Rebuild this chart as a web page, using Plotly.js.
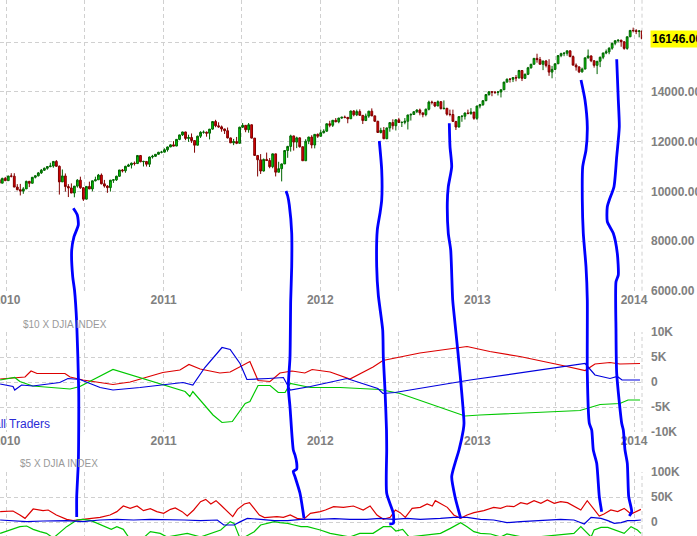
<!DOCTYPE html>
<html>
<head>
<meta charset="utf-8">
<script src="https://cdn.plot.ly/plotly-3.0.1.min.js"></script>
<style>html,body{margin:0;padding:0;background:#fff;}#chart{width:697px;height:536px;}</style>
</head>
<body>
<div id="chart"></div>
<script>
// ---------- Weekly DJIA candles (weeks starting Monday) ----------
const firstWeek = '2009-12-14';
const djiaOpen = [10471,10329,10520,10430,10618,10610,10172,10067,10012,10099,
 10402,10325,10566,10625,10742,10850,10927,10997,11019,11204,
 11009,10380,10620,10193,10137,9931,10211,10450,10144,9686,
 10198,10097,10424,10466,10654,10303,10213,10150,10448,10462,
 10607,10860,10829,11006,11062,11133,11118,11444,11192,11204,
 11092,11382,11410,11491,11573,11578,11674,11787,11871,11823,
 12092,12273,12391,12130,12169,12044,11858,12220,12376,12380,
 12341,12505,12811,12638,12596,12512,12441,12151,11952,12004,
 11934,12582,12657,12480,12681,12143,11445,11269,10818,11285,
 11240,10993,11509,10771,10913,11103,11644,11809,12231,11983,
 12153,11796,11231,12019,12184,11866,12294,12218,12360,12422,
 12720,12660,12862,12801,12950,12983,12978,12922,13233,13081,
 13212,13060,12850,13029,13228,13038,12821,12369,12455,12119,
 12554,12767,12640,12880,12772,12777,12822,13075,13096,13207,
 13275,13157,13090,13306,13593,13579,13437,13610,13328,13343,
 13107,13093,12815,12588,13009,13025,13155,13135,13190,12938,
 13435,13488,13650,13896,14010,13993,13982,14001,14090,14397,
 14515,14512,14579,14565,14865,14548,14713,14974,15118,15354,
 15303,15116,15248,15070,14800,14910,15135,15464,15544,15559,
 15658,15425,15081,15010,14810,14922,15376,15452,15258,15073,
 15237,15400,15570,15615,15762,15962,16065,16086,16020,15755,
 16221,16479,16470,16437,16458];
const djiaHigh = [10516,10550,10580,10620,10730,10730,10290,10300,10170,10430,
 10420,10570,10640,10780,10900,10960,11010,11150,11210,11258,
 11040,10880,10720,10290,10320,10200,10490,10590,10170,10200,
 10390,10430,10590,10700,10720,10460,10250,10460,10490,10630,
 10860,10900,11030,11110,11160,11200,11450,11450,11230,11220,
 11400,11470,11500,11590,11630,11730,11800,11890,12020,12100,
 12280,12400,12400,12280,12330,12050,12240,12420,12450,12410,
 12510,12830,12880,12780,12650,12520,12570,12160,12110,12190,
 12600,12750,12660,12750,12690,12150,11450,11500,11320,11560,
 11340,11520,11510,11190,11120,11650,11830,12280,12240,12200,
 12170,11800,12100,12200,12260,12300,12330,12480,12500,12730,
 12840,12870,12950,12960,13000,13050,12980,13250,13270,13290,
 13300,13070,13130,13240,13340,13050,12840,12560,12590,12560,
 12780,12900,12900,12960,12810,12950,13080,13140,13210,13300,
 13330,13180,13330,13650,13650,13600,13660,13620,13660,13360,
 13290,13290,12830,13010,13060,13170,13290,13350,13200,13440,
 13520,13660,13900,14020,14020,14040,14040,14100,14410,14540,
 14560,14590,14680,14890,14870,14740,15010,15120,15360,15540,
 15410,15250,15290,15320,15050,15140,15480,15580,15610,15660,
 15660,15470,15150,15030,14980,15380,15710,15470,15270,15240,
 15420,15580,15710,15800,15970,16070,16110,16100,16040,16230,
 16480,16590,16530,16490,16470];
const djiaLow = [10262,10329,10428,10430,10560,10170,10040,9835,9900,10099,
 10170,10320,10520,10600,10700,10820,10870,10970,10950,10990,
 9870,10380,9990,9770,9930,9760,10150,10100,9614,9680,
 10090,10000,10400,10460,10280,10150,9940,9990,10340,10420,
 10590,10760,10750,10980,10920,11040,11100,11170,11000,11000,
 10980,11320,11390,11480,11530,11570,11600,11780,11820,11820,
 12060,12230,12060,11990,11950,11555,11850,12150,12320,12200,
 12090,12480,12580,12560,12400,12310,12130,11940,11860,11900,
 11930,12550,12380,12360,12130,11440,10600,10700,10800,11230,
 10930,10930,10600,10770,10400,11100,11350,11600,11640,11740,
 11760,11230,11230,11900,11730,11730,12150,12210,12330,12400,
 12580,12590,12780,12740,12920,12940,12740,12920,13020,13030,
 13040,12710,12830,12960,13030,12800,12360,12330,12100,12100,
 12400,12490,12450,12760,12590,12700,12490,12850,13090,13150,
 13060,12980,13020,13260,13500,13390,13430,13300,13300,13050,
 13020,12800,12470,12580,12800,12890,13100,13080,12880,12880,
 13340,13440,13630,13850,13830,13920,13860,13780,14080,14380,
 14380,14400,14430,14540,14440,14530,14680,14940,15100,15180,
 15110,14880,14990,14650,14550,14900,15130,15400,15440,15460,
 15400,15080,14860,14760,14780,14920,15340,15200,14980,14720,
 15000,15320,15520,15520,15700,15880,16000,15820,15700,15700,
 16220,16400,16330,16200,16120];
const djiaClose = [10329,10520,10428,10618,10610,10172,10067,10012,10099,10402,
 10325,10566,10625,10742,10850,10927,10997,11019,11204,11009,
 10380,10620,10193,10137,9931,10211,10450,10144,9686,10198,
 10097,10424,10466,10654,10303,10213,10150,10448,10462,10607,
 10860,10829,11006,11062,11133,11118,11444,11192,11204,11092,
 11382,11410,11491,11573,11578,11674,11787,11871,11823,12092,
 12273,12391,12130,12169,12044,11858,12220,12376,12380,12341,
 12505,12811,12638,12596,12512,12441,12151,11952,12004,11934,
 12582,12657,12480,12681,12143,11445,11269,10818,11285,11240,
 10993,11509,10771,10913,11103,11644,11809,12231,11983,12153,
 11796,11231,12019,12184,11866,12294,12218,12360,12422,12720,
 12660,12862,12801,12950,12983,12978,12922,13233,13081,13212,
 13060,12850,13029,13228,13038,12821,12369,12455,12119,12554,
 12767,12640,12880,12772,12777,12822,13075,13096,13207,13275,
 13157,13090,13306,13593,13579,13437,13610,13328,13343,13107,
 13093,12815,12588,13009,13025,13155,13135,13190,12938,13435,
 13488,13650,13896,14010,13993,13982,14001,14090,14397,14515,
 14512,14579,14565,14865,14548,14713,14974,15118,15354,15303,
 15116,15248,15070,14800,14910,15135,15464,15544,15559,15658,
 15425,15081,15010,14810,14922,15376,15452,15258,15073,15237,
 15400,15570,15615,15762,15962,16065,16086,16020,15755,16221,
 16479,16470,16437,16458,16146];
const lastPrice = 16146;
const lastPriceLabel = '16146.00';

// ---------- $10 x DJIA COT (thousands of contracts) ----------
const large10Dates = ['2009-12-16','2010-01-15','2010-02-12','2010-02-26','2010-03-12','2010-05-16','2010-05-28','2010-06-27','2010-09-05','2010-10-15','2010-12-30','2011-02-08','2011-03-01','2011-03-27','2011-05-12','2011-06-05','2011-07-21','2011-08-09','2011-09-06','2011-09-29','2011-10-27','2011-11-26','2011-12-13','2012-01-24','2012-02-16','2012-03-10','2012-05-03','2012-05-26','2012-08-20','2012-11-10','2012-12-08','2013-01-30','2013-04-10','2013-07-13','2013-09-09','2013-10-02','2013-11-06','2013-11-29','2014-01-15'];
const large10K = [0.6,0.8,1.0,2.2,1.7,1.7,1.0,0.4,-0.5,0.0,1.9,2.4,3.5,2.6,1.8,2.0,4.1,0.3,0.1,1.8,2.2,1.8,2.5,2.0,1.3,0.6,3.0,4.3,5.8,6.7,7.1,6.1,5.1,3.4,2.3,3.6,3.9,3.6,3.7];
const small10Dates = ['2009-12-16','2010-01-15','2010-01-19','2010-02-04','2010-03-02','2010-05-04','2010-05-23','2010-06-20','2010-08-06','2010-09-05','2010-11-07','2010-12-30','2011-02-15','2011-03-10','2011-04-07','2011-05-17','2011-06-05','2011-06-28','2011-07-14','2011-09-02','2011-10-07','2011-10-23','2011-12-09','2012-03-03','2012-05-14','2012-05-26','2012-06-23','2012-12-15','2013-09-09','2013-10-02','2013-11-06','2013-11-23','2013-12-04','2014-01-15'];
const small10K = [-0.4,-0.9,-1.6,-0.6,-0.8,-0.1,0.7,0.5,-1.1,-1.6,-1.1,-0.6,-0.1,-0.6,2.9,6.9,6.5,3.7,0.5,0.7,0.9,-1.6,-0.9,0.7,-1.3,-2.3,-2.1,0.4,3.7,1.4,0.7,1.1,0.4,0.4];
const comm10Dates = ['2009-12-16','2010-01-19','2010-01-31','2010-03-02','2010-05-28','2010-06-20','2010-09-05','2010-11-07','2011-01-04','2011-02-20','2011-03-03','2011-03-10','2011-04-26','2011-05-17','2011-06-10','2011-07-10','2011-07-21','2011-08-09','2011-09-06','2011-09-25','2011-10-11','2011-10-23','2011-12-09','2012-02-16','2012-05-19','2012-07-05','2012-12-03','2013-01-07','2013-08-28','2013-10-14','2013-11-29','2013-12-18','2014-01-15'];
const comm10K = [0.4,0.9,0.1,-0.8,-1.4,-0.9,2.5,0.9,-0.6,-1.9,-2.9,-1.9,-6.6,-8.1,-7.9,-4.3,-3.9,-0.7,-0.7,-2.1,-2.1,-0.3,-1.1,-1.1,-1.5,-2.3,-6.8,-6.6,-5.7,-4.5,-4.3,-3.6,-3.6];

// ---------- $5 x DJIA COT (thousands of contracts) ----------
const large5Dates = ['2009-12-16','2010-01-15','2010-01-31','2010-02-12','2010-03-03','2010-03-26','2010-04-07','2010-04-26','2010-05-20','2010-06-04','2010-06-27','2010-07-16','2010-08-06','2010-08-29','2010-09-14','2010-09-29','2010-10-15','2010-10-31','2010-11-15','2010-12-01','2010-12-16','2011-01-01','2011-01-17','2011-01-28','2011-02-13','2011-02-25','2011-03-12','2011-03-28','2011-04-09','2011-04-21','2011-05-03','2011-05-14','2011-05-30','2011-06-11','2011-06-22','2011-07-08','2011-07-20','2011-07-31','2011-08-12','2011-08-24','2011-09-06','2011-09-22','2011-10-07','2011-10-23','2011-11-08','2011-11-23','2011-12-09','2012-01-01','2012-01-13','2012-02-01','2012-02-24','2012-03-10','2012-03-18','2012-04-10','2012-04-26','2012-05-12','2012-05-27','2012-06-12','2012-06-24','2012-07-05','2012-07-17','2012-08-02','2012-08-21','2012-09-06','2012-09-18','2012-09-25','2012-10-07','2012-10-23','2012-11-07','2012-11-23','2012-12-08','2012-12-24','2013-01-16','2013-02-08','2013-02-24','2013-03-11','2013-03-27','2013-04-12','2013-04-27','2013-05-13','2013-05-29','2013-06-13','2013-06-29','2013-07-14','2013-07-30','2013-08-14','2013-08-30','2013-09-14','2013-09-30','2013-10-12','2013-10-23','2013-11-08','2013-11-24','2013-12-09','2013-12-25','2014-01-05','2014-01-17'];
const large5K = [20.7,22,14,7.3,26,22.7,24,14,5.3,2.7,5.3,7.3,9.3,14,20.7,32,27.3,32,22.7,26.7,20.7,17.3,25.3,28,20.7,12,24,40.7,45.3,36,42.7,34,20.7,10.7,25.3,36,38.7,27.3,14,8.7,9.3,10.7,9.3,14,7.3,5.3,17.3,20.7,24,30.7,29.3,32,32,24,32,14,5.3,9.3,24,18.7,9.3,27.3,29.3,36,32,42.7,37.3,29.3,14,7.3,14,18.7,22.7,29.3,27.3,32,30.7,38.7,36,42.7,37.3,44,37.3,40.7,38.7,32,24,42.7,24,12,16,24,20.7,27.3,16,20.7,25.3];
const small5Dates = ['2009-12-16','2010-01-15','2010-02-16','2010-03-26','2010-05-20','2010-06-27','2010-08-06','2010-09-14','2010-10-23','2010-12-01','2011-01-09','2011-02-18','2011-03-28','2011-05-06','2011-05-21','2011-06-14','2011-06-29','2011-07-15','2011-08-15','2011-09-16','2011-10-17','2011-11-17','2011-12-26','2012-02-03','2012-03-10','2012-04-18','2012-05-19','2012-06-20','2012-07-21','2012-08-21','2012-10-07','2012-11-07','2012-12-08','2013-01-08','2013-02-08','2013-03-11','2013-04-12','2013-05-29','2013-07-14','2013-08-14','2013-09-07','2013-09-23','2013-10-16','2013-11-01','2013-11-16','2013-12-02','2013-12-17','2014-01-02','2014-01-17'];
const small5K = [4,2.7,0.7,2,2.7,0.7,4,5.3,4,5.3,5.3,4,2.7,4,-6,-6,0.7,7.3,5.3,2.7,2.7,5.3,5.3,6.7,5.3,5.3,7.3,5.3,7.3,5.3,7.3,9.3,9.3,5.3,4,-1.3,0.7,2.7,5.3,4,-4,9.3,7.3,2.7,-2.7,-1.3,2.7,2.7,4];
const comm5Dates = ['2009-12-16','2010-01-08','2010-01-31','2010-02-16','2010-03-03','2010-03-19','2010-04-03','2010-04-19','2010-05-20','2010-06-13','2010-06-27','2010-07-16','2010-08-01','2010-08-16','2010-09-01','2010-09-14','2010-09-29','2010-10-15','2010-11-07','2010-12-01','2010-12-24','2011-01-09','2011-02-25','2011-03-28','2011-05-14','2011-06-05','2011-06-14','2011-06-29','2011-07-31','2011-08-15','2011-08-31','2011-09-16','2011-09-29','2011-10-17','2011-11-01','2011-11-17','2011-12-02','2012-01-01','2012-01-24','2012-03-10','2012-04-02','2012-05-03','2012-05-27','2012-06-14','2012-06-25','2012-07-11','2012-07-26','2012-10-07','2012-10-30','2012-11-23','2012-12-08','2012-12-24','2013-01-08','2013-02-01','2013-02-24','2013-03-11','2013-04-27','2013-08-14','2013-08-30','2013-09-07','2013-09-23','2013-09-30','2013-10-16','2013-11-01','2013-11-16','2013-12-09','2013-12-25','2014-01-09','2014-01-17'];
const comm5K = [-22.7,-16,-9.3,-8,-14.7,-19.3,-22.7,-32,-9.3,4,5.3,2.7,-2.7,-9.3,-14.7,-9.3,-14.7,-35,-38,-19.3,-22.7,-30,-22.7,-30,-16,0.7,-2.7,-35,-19.3,-6,-2.7,0.7,-1.3,-2.7,-6,-9.3,-9.3,-16,-22.7,-30,-22.7,-22.7,-9.3,-9.3,-18,-14.7,-30,-22.7,-12.7,-1.3,-9.3,-19.3,-22.7,-24,-30,-24,-32,-22.7,-9.3,-16,-30,-16,-10.7,-10.7,-16,-22.7,-9.3,-16,-22.7];

// ---------- axis ticks ----------
const dateTicks = ['2010-01-01','2010-07-01','2011-01-01','2011-07-01','2012-01-01','2012-07-01','2013-01-01','2013-07-01','2014-01-01'];
const dateTickText = ['2010','','2011','','2012','','2013','','2014'];
const priceTicks = [6000,8000,10000,12000,14000,16000];
const priceTickText = ['6000.00','8000.00','10000.00','12000.00','14000.00',''];
const cot10Ticks = [-10,-5,0,5,10];
const cot10TickText = ['-10K','-5K','0','5K','10K'];
const cot5Ticks = [0,50,100];
const cot5TickText = ['0','50K','100K'];

// ---------- hand-drawn blue strokes (figure pixel units) ----------
const strokes = [
 {x:[73.3,77.3,78.3,74,71.7,72.7,74.5,76.7,78.7,78.7,78.3,76.7,76.7],
  y:[208.3,215,225,236.7,250,276.7,290,323,390,430,463,497,517]},
 {x:[286,287.7,289.3,291.7,291.7,290.7,290,288.3,290,293.3,295,296.7,296.7,293.3,295,300,304],
  y:[191,196,205,233,267,300,357,387,407,450,455,463,469,471.5,476.7,493.3,518.3]},
 {x:[379.3,381.7,381.7,380,377.3,376.7,378.3,382.7,383.3,385,386.5,386.7,386.7,393.3,393.3,389.3],
  y:[141,170,200,213.3,230,266.7,295,330,356.7,390,430,450,493.3,513.3,523.3,524]},
 {x:[449.3,450,451.7,448.3,447.3,448.3,450.7,452.7,455,460,464,463.3,459,455,451.7,455,460.7],
  y:[123.3,146.7,166.7,186.7,203,233.3,250,300,323.3,373.3,423.3,430,450,463.3,476.7,496.7,518.3]},
 {x:[581,585,587.3,586,582.7,582.3,583.3,586,587.3,587.3,587.3,589.3,591.7,593.3,596.7,599.3,601.7],
  y:[80,100,126.7,150,166.7,200,233.3,266.7,300,330,373.3,423.3,430,450,463.3,496.7,511.7]},
 {x:[616.7,618.3,619.3,616.7,614,609.3,607.3,607.3,613.3,617.3,618.3,616,616,616.7,621.7,623.3,625,627.3,628.7,631.7,629.3],
  y:[59.3,100,126.7,156.7,186.7,200,206.7,221.7,233.3,253.3,275,281.7,330,373.3,423.3,430,450,463.3,496.7,511.7,516]}
];

// ---------- build ----------
const weekDates = djiaOpen.map((_, i) => {
  const d = new Date(Date.parse(firstWeek + 'T00:00:00Z') + i * 7 * 86400000);
  return d.toISOString().slice(0, 10);
});

const RED = '#dd0000', GREEN = '#00c800', BLUE = '#0000dd';
const traces = [];
traces.push({
  type: 'candlestick', x: weekDates, open: djiaOpen, high: djiaHigh, low: djiaLow, close: djiaClose,
  xaxis: 'x', yaxis: 'y', whiskerwidth: 0, hoverinfo: 'skip',
  increasing: {line: {color: '#006400', width: 1}, fillcolor: '#00d200'},
  decreasing: {line: {color: '#800000', width: 1}, fillcolor: '#e00000'}
});
function line(x, y, color, ax, name) {
  return {type: 'scatter', mode: 'lines', x: x, y: y, name: name, xaxis: ax[0], yaxis: ax[1],
          line: {color: color, width: 1.2}, hoverinfo: 'skip'};
}
traces.push(line(large10Dates, large10K, RED, ['x2','y2'], 'Large Traders'));
traces.push(line(comm10Dates, comm10K, GREEN, ['x2','y2'], 'Commercials'));
traces.push(line(small10Dates, small10K, BLUE, ['x2','y2'], 'Small Traders'));
traces.push(line(large5Dates, large5K, RED, ['x3','y3'], 'Large Traders'));
traces.push(line(comm5Dates, comm5K, GREEN, ['x3','y3'], 'Commercials'));
traces.push(line(small5Dates, small5K, BLUE, ['x3','y3'], 'Small Traders'));
strokes.forEach(s => traces.push({type: 'scatter', mode: 'lines', x: s.x, y: s.y, xaxis: 'x4', yaxis: 'y4',
  line: {color: '#0000ff', width: 2.8, shape: 'spline', smoothing: 0.6}, hoverinfo: 'skip'}));

const H = 536, PW = 642;
const xRange = ['2009-12-15 17:00', '2014-01-19 14:00'];
const tickFont = {family: 'Liberation Sans, Arial, sans-serif', size: 12, color: '#808080', weight: 'bold'};
const gridStyle = {showgrid: true, gridcolor: '#d0d0d0', griddash: '4px,3px', gridwidth: 1, zeroline: false, showline: false, ticks: ''};
function xAx(anchor) {
  return Object.assign({type: 'date', range: xRange, anchor: anchor, tickmode: 'array', tickvals: dateTicks,
    ticktext: dateTickText, tickfont: tickFont, ticklabeloverflow: 'allow', fixedrange: true}, gridStyle);
}
function yAx(domain, range, tv, tt, anchor) {
  return Object.assign({domain: domain, range: range, side: 'right', anchor: anchor, tickmode: 'array',
    tickvals: tv, ticktext: tt, tickfont: tickFont, ticklabeloverflow: 'allow', ticklabelstandoff: 8, fixedrange: true}, gridStyle);
}
const mainDom = [1 - 290.7 / H, 1];
const cot10Dom = [1 - 432 / H, 1 - 332 / H];
const cot5Dom = [0, 1 - 472 / H];

const layout = {
  width: 697, height: 536, margin: {l: 0, r: 55, t: 0, b: 0},
  paper_bgcolor: '#ffffff', plot_bgcolor: 'rgba(0,0,0,0)', showlegend: false, boxgap: 0.15,
  xaxis: Object.assign(xAx('y'), {rangeslider: {visible: false}}),
  yaxis: yAx(mainDom, [6000, 17703], priceTicks, priceTickText, 'x'),
  xaxis2: Object.assign(xAx('y2'), {matches: 'x'}),
  yaxis2: yAx(cot10Dom, [-10, 10], cot10Ticks, cot10TickText, 'x2'),
  xaxis3: Object.assign(xAx('y3'), {matches: 'x'}),
  yaxis3: yAx(cot5Dom, [-28, 100], cot5Ticks, cot5TickText, 'x3'),
  xaxis4: {domain: [0, 1], range: [0, PW], visible: false, anchor: 'y4', fixedrange: true},
  yaxis4: {domain: [0, 1], range: [H, 0], visible: false, anchor: 'x4', fixedrange: true},
  shapes: [mainDom, cot10Dom, cot5Dom].map(d => ({type: 'line', xref: 'paper', yref: 'paper', x0: 1, x1: 1, y0: d[0], y1: d[1],
    line: {color: '#d0d0d0', width: 1, dash: '4px,3px'}, layer: 'below'})),
  annotations: [
    {xref: 'paper', yref: 'y', x: 1, y: lastPrice, xanchor: 'left', yanchor: 'middle', xshift: 8, showarrow: false,
     text: lastPriceLabel, bgcolor: '#ffff00', borderpad: 1,
     font: {family: 'Liberation Sans, Arial, sans-serif', size: 12, color: '#000000', weight: 'bold'}},
    {xref: 'paper', yref: 'paper', x: 21 / PW, y: 1 - 324 / H, xanchor: 'left', yanchor: 'middle', showarrow: false,
     text: '$10 X DJIA INDEX', font: {family: 'Liberation Sans, Arial, sans-serif', size: 10, color: '#999999'}},
    {xref: 'paper', yref: 'paper', x: 18 / PW, y: 1 - 464 / H, xanchor: 'left', yanchor: 'middle', showarrow: false,
     text: '$5 X DJIA INDEX', font: {family: 'Liberation Sans, Arial, sans-serif', size: 10, color: '#999999'}},
    {xref: 'paper', yref: 'paper', x: 52 / PW, y: 1 - 424 / H, xanchor: 'right', yanchor: 'middle', showarrow: false,
     text: 'Small Traders', font: {family: 'Liberation Sans, Arial, sans-serif', size: 12, color: '#2b2bd6'}}
  ]
};

Plotly.newPlot('chart', traces, layout, {staticPlot: true, displayModeBar: false});
</script>
</body>
</html>
